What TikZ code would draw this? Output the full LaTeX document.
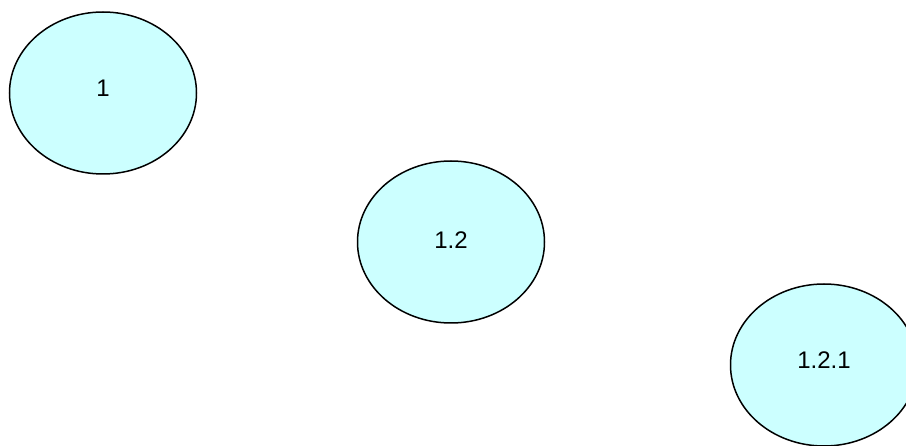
\documentclass[tikz,border=0pt]{standalone}
\usepackage{fontspec}
\setmainfont{Liberation Sans}
\usetikzlibrary{shapes.geometric}
\definecolor{bubble}{HTML}{CCFFFF}
\begin{document}
\begin{tikzpicture}[x=1pt,y=-1pt,
  bub/.style={ellipse,draw=black,fill=bubble,line width=1.5pt,minimum width=187pt,minimum height=162pt,inner sep=0pt},
  lab/.style={font=\fontsize{24}{28}\selectfont,inner sep=0pt}]
\useasboundingbox (0,0) rectangle (906,446);
\node[bub] (n1) at (103,93) {};
\node[bub] (n12) at (451,242) {};
\node[bub] (n121) at (824,365) {};
\node[lab] (t1) at ([yshift=5pt]n1.center) {1};
\node[lab] (t12) at ([yshift=2pt]n12.center) {1.2};
\node[lab] (t121) at ([yshift=5pt]n121.center) {1.2.1};
\end{tikzpicture}
\end{document}
